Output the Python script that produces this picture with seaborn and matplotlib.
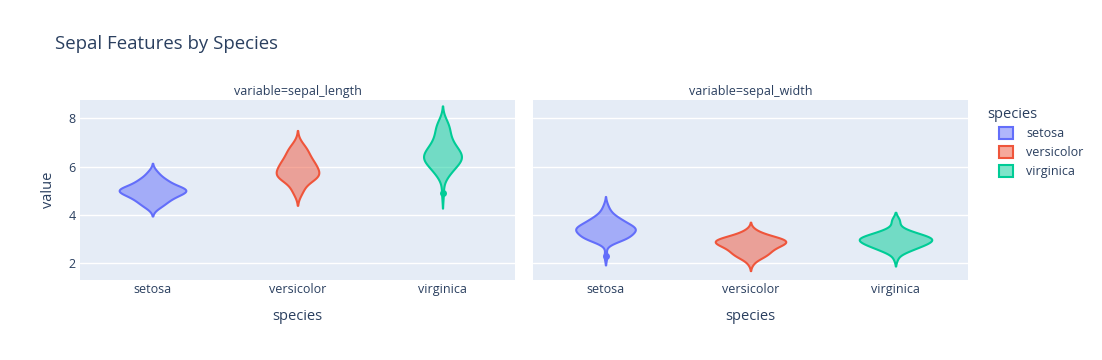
import numpy as np
import pandas as pd
import matplotlib
matplotlib.use("Agg")
import matplotlib.pyplot as plt
import seaborn as sns
from matplotlib.patches import Patch
from matplotlib.colors import to_rgba

# ---------------- data ----------------
species = ["setosa", "versicolor", "virginica"]
variables = ["sepal_length", "sepal_width"]
colors = ["#636EFA", "#EF553B", "#00CC96"]

setosa_sepal_length = [5.1, 4.9, 4.7, 4.6, 5.0, 5.4, 4.6, 5.0, 4.4, 4.9,
                       5.4, 4.8, 4.8, 4.3, 5.8, 5.7, 5.4, 5.1, 5.7, 5.1,
                       5.4, 5.1, 4.6, 5.1, 4.8, 5.0, 5.0, 5.2, 5.2, 4.7,
                       4.8, 5.4, 5.2, 5.5, 4.9, 5.0, 5.5, 4.9, 4.4, 5.1,
                       5.0, 4.5, 4.4, 5.0, 5.1, 4.8, 5.1, 4.6, 5.3, 5.0]
setosa_sepal_width = [3.5, 3.0, 3.2, 3.1, 3.6, 3.9, 3.4, 3.4, 2.9, 3.1,
                      3.7, 3.4, 3.0, 3.0, 4.0, 4.4, 3.9, 3.5, 3.8, 3.8,
                      3.4, 3.7, 3.6, 3.3, 3.4, 3.0, 3.4, 3.5, 3.4, 3.2,
                      3.1, 3.4, 4.1, 4.2, 3.1, 3.2, 3.5, 3.6, 3.0, 3.4,
                      3.5, 2.3, 3.2, 3.5, 3.8, 3.0, 3.8, 3.2, 3.7, 3.3]
versicolor_sepal_length = [7.0, 6.4, 6.9, 5.5, 6.5, 5.7, 6.3, 4.9, 6.6, 5.2,
                           5.0, 5.9, 6.0, 6.1, 5.6, 6.7, 5.6, 5.8, 6.2, 5.6,
                           5.9, 6.1, 6.3, 6.1, 6.4, 6.6, 6.8, 6.7, 6.0, 5.7,
                           5.5, 5.5, 5.8, 6.0, 5.4, 6.0, 6.7, 6.3, 5.6, 5.5,
                           5.5, 6.1, 5.8, 5.0, 5.6, 5.7, 5.7, 6.2, 5.1, 5.7]
versicolor_sepal_width = [3.2, 3.2, 3.1, 2.3, 2.8, 2.8, 3.3, 2.4, 2.9, 2.7,
                          2.0, 3.0, 2.2, 2.9, 2.9, 3.1, 3.0, 2.7, 2.2, 2.5,
                          3.2, 2.8, 2.5, 2.8, 2.9, 3.0, 2.8, 3.0, 2.9, 2.6,
                          2.4, 2.4, 2.7, 2.7, 3.0, 3.4, 3.1, 2.3, 3.0, 2.5,
                          2.6, 3.0, 2.6, 2.3, 2.7, 3.0, 2.9, 2.9, 2.5, 2.8]
virginica_sepal_length = [6.3, 5.8, 7.1, 6.3, 6.5, 7.6, 4.9, 7.3, 6.7, 7.2,
                          6.5, 6.4, 6.8, 5.7, 5.8, 6.4, 6.5, 7.7, 7.7, 6.0,
                          6.9, 5.6, 7.7, 6.3, 6.7, 7.2, 6.2, 6.1, 6.4, 7.2,
                          7.4, 7.9, 6.4, 6.3, 6.1, 7.7, 6.3, 6.4, 6.0, 6.9,
                          6.7, 6.9, 5.8, 6.8, 6.7, 6.7, 6.3, 6.5, 6.2, 5.9]
virginica_sepal_width = [3.3, 2.7, 3.0, 2.9, 3.0, 3.0, 2.5, 2.9, 2.5, 3.6,
                         3.2, 2.7, 3.0, 2.5, 2.8, 3.2, 3.0, 3.8, 2.6, 2.2,
                         3.2, 2.8, 2.8, 2.7, 3.3, 3.2, 2.8, 3.0, 2.8, 3.0,
                         2.8, 3.8, 2.8, 2.8, 2.6, 3.0, 3.4, 3.1, 3.0, 3.1,
                         3.1, 3.1, 2.7, 3.2, 3.3, 3.0, 2.5, 3.0, 3.4, 3.0]

# outlier points shown on the violins
outlier_species = ["setosa", "virginica"]
outlier_variable = ["sepal_width", "sepal_length"]
outlier_value = [2.3, 4.9]

series = {
    ("setosa", "sepal_length"): setosa_sepal_length,
    ("setosa", "sepal_width"): setosa_sepal_width,
    ("versicolor", "sepal_length"): versicolor_sepal_length,
    ("versicolor", "sepal_width"): versicolor_sepal_width,
    ("virginica", "sepal_length"): virginica_sepal_length,
    ("virginica", "sepal_width"): virginica_sepal_width,
}
rows = []
for (sp, var), vals in series.items():
    for v in vals:
        rows.append((sp, var, v))
df = pd.DataFrame(rows, columns=["species", "variable", "value"])
out_df = pd.DataFrame({"species": outlier_species,
                       "variable": outlier_variable,
                       "value": outlier_value})

# ---------------- style ----------------
sns.set_theme(style="white")
plt.rcParams["font.family"] = ["Open Sans", "DejaVu Sans"]
TXT = "#2a3f5f"
BG = "#E5ECF6"

W, H = 1102, 360
fig = plt.figure(figsize=(W / 100, H / 100), dpi=100)
fig.patch.set_facecolor("white")

ax1 = fig.add_axes([80 / W, 1 - 280 / H, 435 / W, 180 / H])
ax2 = fig.add_axes([533 / W, 1 - 280 / H, 435 / W, 180 / H], sharey=ax1)
palette = dict(zip(species, colors))
widths = {"sepal_length": 0.46, "sepal_width": 0.50}

for ax, var in zip([ax1, ax2], variables):
    ax.set_facecolor(BG)
    sub = df[df["variable"] == var]
    sns.violinplot(data=sub, x="species", y="value", hue="species",
                   order=species, hue_order=species, palette=palette,
                   inner=None, density_norm="area", common_norm=True,
                   bw_method="silverman", cut=2, width=widths[var],
                   linewidth=1.5, saturation=1, legend=False, ax=ax)
    for coll in ax.collections:
        fc = coll.get_facecolor()
        if len(fc):
            rgb = tuple(fc[0][:3])
            coll.set_facecolor(to_rgba(rgb, 0.5))
            coll.set_edgecolor(to_rgba(rgb, 1.0))
            coll.set_linewidth(1.5)
    osub = out_df[out_df["variable"] == var]
    if len(osub):
        sns.stripplot(data=osub, x="species", y="value", hue="species",
                      order=species, hue_order=species, palette=palette,
                      jitter=False, size=5, linewidth=0, legend=False,
                      ax=ax, zorder=4)
    ax.set_xlim(-0.5, 2.5)
    ax.set_ylim(1.31, 8.76)
    ax.set_yticks([2, 4, 6, 8])
    ax.set_axisbelow(True)
    ax.yaxis.grid(True, color="white", linewidth=1)
    ax.xaxis.grid(False)
    for s in ax.spines.values():
        s.set_visible(False)
    ax.tick_params(axis="both", length=0, labelsize=9, labelcolor=TXT)
    ax.tick_params(axis="x", pad=2)
    ax.tick_params(axis="y", pad=3)
    ax.set_xlabel("")
    ax.set_ylabel("")
    cx = ax.get_position().x0 + ax.get_position().width / 2
    fig.text(cx, 1 - 91 / H, f"variable={var}", ha="center", va="center",
             fontsize=9, color=TXT)
    fig.text(cx, 1 - 316 / H, "species", ha="center", va="center",
             fontsize=10.5, color=TXT)

ax2.tick_params(axis="y", labelleft=False)

fig.text(48 / W, 1 - 190 / H, "value", rotation=90, ha="center",
         va="center", fontsize=10.5, color=TXT)
fig.text(55 / W, 1 - 44 / H, "Sepal Features by Species", ha="left",
         va="center", fontsize=13.4, color=TXT)

handles = [Patch(facecolor=to_rgba(c, 0.5), edgecolor=c, linewidth=1.5,
                 label=s) for s, c in zip(species, colors)]
fig.text(987 / W, 1 - 114 / H, "species", ha="left", va="center",
         fontsize=10.5, color=TXT)
leg = fig.legend(handles=handles, loc="upper left",
                 bbox_to_anchor=(999 / W, 1 - 127 / H), frameon=False,
                 fontsize=9, handlelength=1.1,
                 handleheight=1.1, handletextpad=1.1, labelspacing=0.45,
                 borderpad=0, borderaxespad=0)
for t in leg.get_texts():
    t.set_color(TXT)

fig.savefig("out.png", dpi=100, facecolor="white")
